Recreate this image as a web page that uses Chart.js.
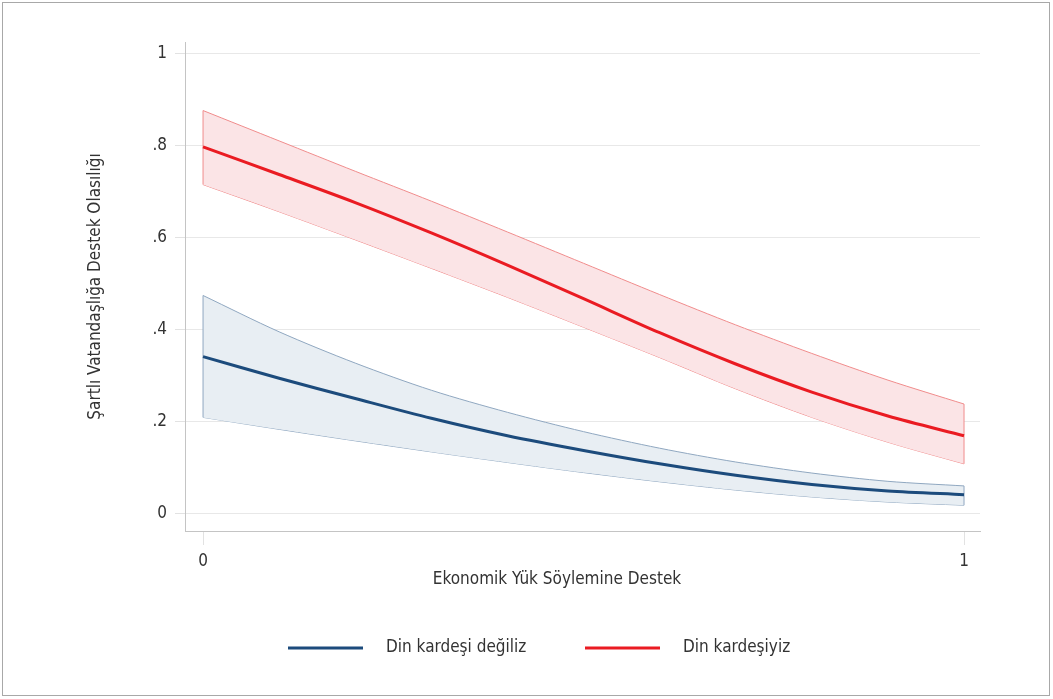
<!DOCTYPE html>
<html>
<head>
<meta charset="utf-8">
<script src="https://cdn.jsdelivr.net/npm/chart.js@4"></script>
<style>
  html, body { margin: 0; padding: 0; background: #fff; }
  #wrap { position: relative; width: 1053px; height: 699px; }
  #frame { position: absolute; left: 2px; top: 2px; width: 1046px; height: 692px; border: 1px solid #a8a8a8; pointer-events: none; }
  canvas { position: absolute; left: 0; top: 0; }
</style>
</head>
<body>
<div id="wrap">
  <canvas id="grafico" width="1053" height="699"></canvas>
  <div id="frame"></div>
</div>
<script>
// values
const xVals = [0, 0.1, 0.2, 0.3, 0.4, 0.5, 0.6, 0.7, 0.8, 0.9, 1];
const kardesMean = [0.798, 0.738, 0.677, 0.611, 0.541, 0.468, 0.394, 0.326, 0.265, 0.213, 0.170];
const kardesUst  = [0.877, 0.811, 0.745, 0.680, 0.613, 0.545, 0.477, 0.411, 0.349, 0.291, 0.239];
const kardesAlt  = [0.716, 0.657, 0.596, 0.534, 0.471, 0.406, 0.340, 0.272, 0.210, 0.156, 0.109];
const degilMean  = [0.342, 0.295, 0.251, 0.208, 0.170, 0.138, 0.109, 0.084, 0.064, 0.050, 0.042];
const degilUst   = [0.475, 0.396, 0.328, 0.269, 0.221, 0.179, 0.143, 0.113, 0.089, 0.071, 0.061];
const degilAlt   = [0.210, 0.184, 0.159, 0.135, 0.112, 0.090, 0.070, 0.052, 0.037, 0.026, 0.019];
const xTicks = [0, 1];
const yTicks = [0, 0.2, 0.4, 0.6, 0.8, 1];
const seriesNames = ['Din kardeşi değiliz', 'Din kardeşiyiz'];
const xTitle = 'Ekonomik Yük Söylemine Destek';
const yTitle = 'Şartlı Vatandaşlığa Destek Olasılığı';

const FONT = '"Liberation Sans Narrow", "DejaVu Sans Condensed", sans-serif';
const TEXT = '#333333';
const RED = '#ea1b22', RED_EDGE = '#f08c8c', RED_FILL = '#fbe4e6';
const BLUE = '#1c4b7c', BLUE_EDGE = '#8fa7c0', BLUE_FILL = '#e8eef3';
const TENSION = 0.3;

const pts = ys => xVals.map((x, i) => ({ x: x, y: ys[i] }));
const last = xVals.length - 1;
const edge = (alt, ust, i, color) => ({
    data: [{ x: xVals[i], y: alt[i] }, { x: xVals[i], y: ust[i] }],
    borderColor: color, borderWidth: 1, pointRadius: 0, fill: false, order: 2
});

// legend and x title drawn by hand so spacing matches
const extrasPlugin = {
    id: 'extras',
    afterDraw(chart) {
        const ctx = chart.ctx;
        const items = [
            { x: 288, color: BLUE, label: seriesNames[0] },
            { x: 585, color: RED, label: seriesNames[1] }
        ];
        ctx.save();
        ctx.font = '17px ' + FONT;
        ctx.fillStyle = TEXT;
        ctx.textBaseline = 'middle';
        items.forEach(it => {
            ctx.strokeStyle = it.color;
            ctx.lineWidth = 3;
            ctx.beginPath();
            ctx.moveTo(it.x, 648);
            ctx.lineTo(it.x + 75, 648);
            ctx.stroke();
            ctx.fillText(it.label, it.x + 98, 648);
        });
        ctx.textAlign = 'center';
        ctx.fillText(xTitle, 557, 580);
        ctx.restore();
    }
};

const lineDs = (data, color, width, extra) => Object.assign({
    data: data, borderColor: color, borderWidth: width, pointRadius: 0, fill: false, tension: TENSION
}, extra);

new Chart(document.getElementById('grafico'), {
    type: 'line',
    data: {
        datasets: [
            lineDs(pts(degilMean), BLUE, 3, { label: seriesNames[0], order: 0 }),
            lineDs(pts(kardesMean), RED, 3, { label: seriesNames[1], order: 0 }),
            // bands: upper filled down to lower
            lineDs(pts(kardesUst), RED_EDGE, 1, { backgroundColor: RED_FILL, fill: '+1', order: 3 }),
            lineDs(pts(kardesAlt), RED_EDGE, 1, { order: 3 }),
            lineDs(pts(degilUst), BLUE_EDGE, 1, { backgroundColor: BLUE_FILL, fill: '+1', order: 3 }),
            lineDs(pts(degilAlt), BLUE_EDGE, 1, { order: 3 }),
            edge(kardesAlt, kardesUst, 0, RED_EDGE),
            edge(kardesAlt, kardesUst, last, RED_EDGE),
            edge(degilAlt, degilUst, 0, BLUE_EDGE),
            edge(degilAlt, degilUst, last, BLUE_EDGE)
        ]
    },
    options: {
        responsive: false,
        animation: false,
        events: [],
        layout: { padding: { left: 81, right: 73, top: 42, bottom: 105 } },
        plugins: { legend: { display: false }, tooltip: { enabled: false } },
        scales: {
            x: {
                type: 'linear', min: -0.0237, max: 1.021,
                afterBuildTicks: s => { s.ticks = xTicks.map(v => ({ value: v })); },
                afterFit: s => { s.height = 63; },
                grid: { drawOnChartArea: false, tickLength: 14, tickColor: '#e2e2e2' },
                border: { color: '#c4c4c4', width: 1 },
                ticks: { font: { family: FONT, size: 17 }, color: TEXT, padding: 6, maxRotation: 0,
                         callback: v => String(v) }
            },
            y: {
                min: -0.037, max: 1.026,
                afterBuildTicks: s => { s.ticks = yTicks.map(v => ({ value: v })); },
                afterFit: s => { s.width = 104; },
                grid: { color: '#e8e8e8', tickLength: 10, tickColor: '#e2e2e2' },
                border: { color: '#c4c4c4', width: 1 },
                ticks: { font: { family: FONT, size: 17 }, color: TEXT, padding: 8,
                         callback: v => (v === 0 || v === 1) ? String(v) : String(Math.round(v * 10) / 10).replace('0.', '.') },
                title: { display: true, text: yTitle, font: { family: FONT, size: 17 }, color: TEXT }
            }
        }
    },
    plugins: [extrasPlugin]
});
</script>
</body>
</html>
